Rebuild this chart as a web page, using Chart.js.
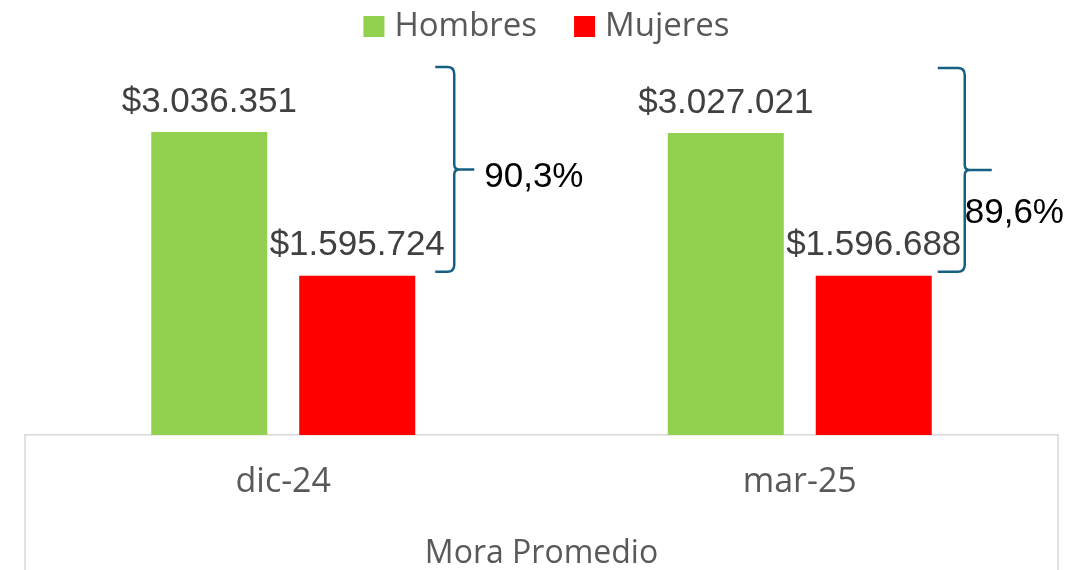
<!DOCTYPE html>
<html>
<head>
<meta charset="utf-8">
<script src="https://cdn.jsdelivr.net/npm/chart.js@4.4.1/dist/chart.umd.min.js"></script>
<style>
  body { margin: 0; background: #fff; }
  #wrap { width: 1079px; height: 570px; position: relative; }
</style>
</head>
<body>
<div id="wrap"><canvas id="moraChart"></canvas></div>
<script>
// Datos del gráfico
const periodos = ['dic-24', 'mar-25'];
const hombres = [3036351, 3027021];
const mujeres = [1595724, 1596688];
const tituloEje = 'Mora Promedio';

// Formato chileno: $3.036.351
function formatoPesos(v) {
    return '$' + String(v).replace(/\B(?=(\d{3})+(?!\d))/g, '.');
}

// Brecha hombres vs mujeres: 90,3%
function formatoBrecha(h, m) {
    return ((h - m) / m * 100).toFixed(1).replace('.', ',') + '%';
}

// Leyenda dibujada a mano (para controlar el espaciado)
const leyendaPlugin = {
    id: 'leyenda',
    afterDraw(chart) {
        const ctx = chart.ctx;
        const caja = 21, hueco = 10, separacion = 37, yCentro = 26.5;
        ctx.save();
        ctx.font = '33px "Open Sans", sans-serif';
        ctx.textBaseline = 'middle';
        ctx.textAlign = 'left';
        const items = chart.data.datasets.map(ds => ({
            texto: ds.label,
            color: ds.backgroundColor,
            ancho: ctx.measureText(ds.label).width
        }));
        let total = 0;
        items.forEach((it, i) => {
            total += caja + hueco + it.ancho + (i > 0 ? separacion : 0);
        });
        const a = chart.chartArea;
        let x = (a.left + a.right) / 2 + 5 - total / 2;
        items.forEach(it => {
            ctx.fillStyle = it.color;
            ctx.fillRect(x, yCentro - caja / 2, caja, caja);
            ctx.fillStyle = '#595959';
            ctx.fillText(it.texto, x + caja + hueco, yCentro);
            x += caja + hueco + it.ancho + separacion;
        });
        ctx.restore();
    }
};

// Etiquetas de valor sobre cada barra
const etiquetasPlugin = {
    id: 'etiquetas',
    afterDatasetsDraw(chart) {
        const ctx = chart.ctx;
        ctx.save();
        ctx.font = '35px "Liberation Sans", Arial, sans-serif';
        ctx.fillStyle = '#404040';
        ctx.textAlign = 'center';
        ctx.textBaseline = 'alphabetic';
        chart.data.datasets.forEach((ds, d) => {
            chart.getDatasetMeta(d).data.forEach((bar, i) => {
                ctx.fillText(formatoPesos(ds.data[i]), bar.x, bar.y - 20.5);
            });
        });
        ctx.restore();
    }
};

// Llaves con la brecha (offsets de cada llave respecto a la barra roja)
const llaves = [
    { hook: 20, stem: 39, tip: 59, labelDx: 69, labelDy: 5 },
    { hook: 6, stem: 33, tip: 60, labelDx: 33, labelDy: 41 }
];

const llavesPlugin = {
    id: 'llaves',
    afterDatasetsDraw(chart) {
        const ctx = chart.ctx;
        const verdes = chart.getDatasetMeta(0).data;
        const rojas = chart.getDatasetMeta(1).data;
        ctx.save();
        verdes.forEach((v, i) => {
            const r = rojas[i];
            const s = llaves[i];
            const base = r.x + r.width / 2;
            const x0 = base + s.hook, xs = base + s.stem, xt = base + s.tip;
            const top = v.y - 65, bottom = r.y - 4;
            const mid = (top + bottom) / 2;
            const rr = 7, rt = 5;
            ctx.beginPath();
            ctx.moveTo(x0, top);
            ctx.lineTo(xs - rr, top);
            ctx.quadraticCurveTo(xs, top, xs, top + rr);
            ctx.lineTo(xs, mid - rt);
            ctx.quadraticCurveTo(xs, mid, xs + rt, mid);
            ctx.lineTo(xt, mid);
            ctx.moveTo(xs + rt, mid);
            ctx.quadraticCurveTo(xs, mid, xs, mid + rt);
            ctx.lineTo(xs, bottom - rr);
            ctx.quadraticCurveTo(xs, bottom, xs - rr, bottom);
            ctx.lineTo(x0, bottom);
            ctx.strokeStyle = '#156082';
            ctx.lineWidth = 2.5;
            ctx.stroke();

            ctx.font = '35px "Liberation Sans", Arial, sans-serif';
            ctx.fillStyle = '#000000';
            ctx.textAlign = 'left';
            ctx.textBaseline = 'alphabetic';
            ctx.fillText(formatoBrecha(hombres[i], mujeres[i]), base + s.labelDx, mid + s.labelDy + 12.5);
        });
        ctx.restore();
    }
};

// Marco del eje de categorías (lados)
const marcoPlugin = {
    id: 'marco',
    afterDraw(chart) {
        const ctx = chart.ctx;
        const a = chart.chartArea;
        ctx.save();
        ctx.strokeStyle = '#D9D9D9';
        ctx.lineWidth = 1.5;
        ctx.beginPath();
        ctx.moveTo(a.left, a.bottom);
        ctx.lineTo(a.left, chart.height);
        ctx.moveTo(a.right, a.bottom);
        ctx.lineTo(a.right, chart.height);
        ctx.stroke();
        ctx.restore();
    }
};

const data = {
    labels: periodos,
    datasets: [
        { label: 'Hombres', data: hombres, backgroundColor: '#92D050' },
        { label: 'Mujeres', data: mujeres, backgroundColor: '#FF0000' }
    ]
};

const config = {
    type: 'bar',
    data: data,
    options: {
        responsive: true,
        maintainAspectRatio: false,
        animation: false,
        categoryPercentage: 0.573,
        barPercentage: 0.784,
        layout: { padding: { left: 25, right: 21, top: 36, bottom: 0 } },
        plugins: {
            legend: { display: false },
            tooltip: { enabled: false }
        },
        scales: {
            x: {
                grid: { display: false, drawTicks: false },
                border: { display: true, color: '#D9D9D9', width: 1.5 },
                ticks: {
                    color: '#595959',
                    padding: 27,
                    font: { family: '"Open Sans", sans-serif', size: 34 }
                },
                title: {
                    display: true,
                    text: tituloEje,
                    color: '#595959',
                    padding: { top: 0, bottom: -3 },
                    font: { family: '"Open Sans", sans-serif', size: 32 }
                },
                afterFit(scale) { scale.height = 135; }
            },
            y: {
                display: false,
                min: 0,
                max: 4000000
            }
        }
    },
    plugins: [leyendaPlugin, etiquetasPlugin, llavesPlugin, marcoPlugin]
};

new Chart(document.getElementById('moraChart').getContext('2d'), config);
</script>
</body>
</html>
